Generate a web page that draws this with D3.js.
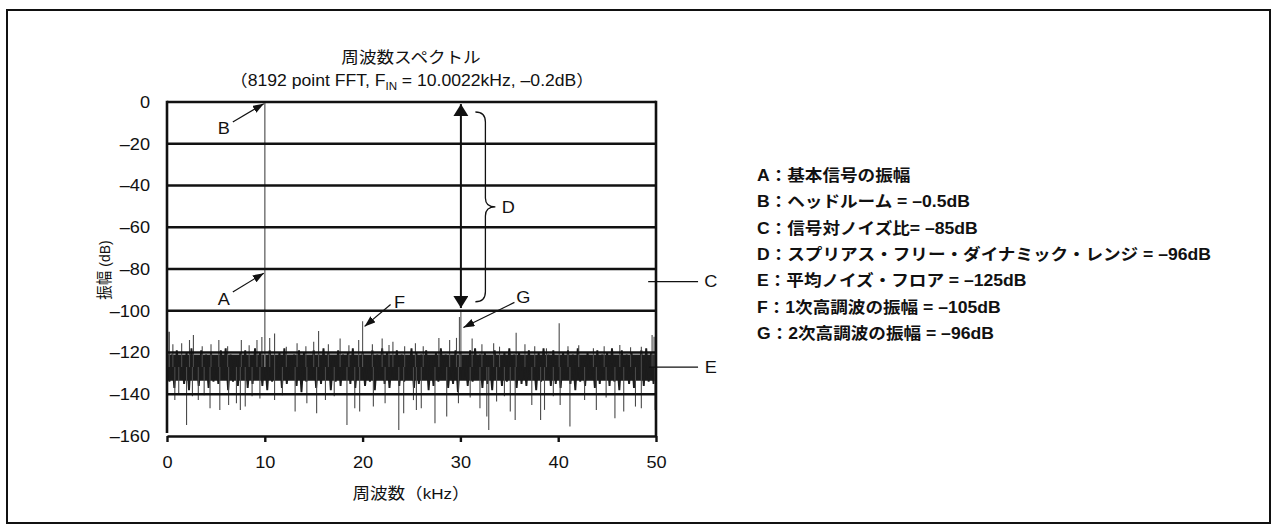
<!DOCTYPE html>
<html><head><meta charset="utf-8">
<script src="https://cdn.jsdelivr.net/npm/d3@7/dist/d3.min.js"></script>
<style>html,body{margin:0;padding:0;background:#fff}svg{display:block}</style>
</head><body><svg id="c" width="1277" height="532"></svg>
<script>
// ---------- data ----------
const titleLine1 = "周波数スペクトル";
const xTitle = "周波数（kHz）";
const yTitle = "振幅 (dB)";
const xTicks = [0, 10, 20, 30, 40, 50];
const yTicks = [0, -20, -40, -60, -80, -100, -120, -140, -160];
// noise floor trace: upper excursions at 0,0.5,...,50 kHz; lower excursions at 0.25,0.75,... kHz
const noiseTop = [
-118,-121,-119,-122,-120,-118,-123,-119,-121,-120,
-122,-119,-118,-121,-123,-120,-119,-122,-118,-120,
-121,-119,-123,-120,-118,-122,-121,-119,-120,-123,
-119,-121,-118,-120,-122,-119,-121,-120,-118,-122,
-120,-123,-119,-121,-118,-120,-122,-119,-121,-123,
-118,-120,-121,-119,-122,-120,-118,-121,-123,-119,
-120,-122,-119,-118,-121,-120,-123,-119,-122,-120,
-118,-121,-120,-122,-119,-123,-120,-118,-121,-119,
-122,-120,-119,-121,-118,-123,-120,-122,-119,-121,
-120,-118,-122,-119,-121,-120,-123,-119,-118,-120,
-119];
const noiseBottom = [
-134,-137,-132,-135,-138,-133,-136,-131,-137,-134,
-135,-132,-138,-134,-136,-133,-137,-135,-131,-136,
-138,-134,-132,-137,-135,-133,-136,-139,-134,-132,
-137,-135,-133,-138,-134,-136,-131,-135,-137,-133,
-136,-134,-138,-132,-135,-137,-133,-136,-134,-131,
-137,-135,-133,-138,-136,-134,-132,-137,-135,-139,
-133,-136,-134,-131,-137,-135,-138,-133,-136,-134,
-132,-137,-135,-136,-133,-138,-134,-131,-136,-135,
-137,-133,-135,-138,-134,-136,-132,-137,-135,-133,
-136,-134,-138,-132,-135,-137,-133,-136,-134,-135];
const noiseCoreTop = -121, noiseCoreBottom = -133.5, noiseMid = -127;
// isolated noise spikes [kHz, dB]
const spikesUp = [[0.1,-110],[0.24,-110],[0.6,-116],[1.5,-115.6],[2.3,-114],[2.7,-111.6],[3.6,-117],[4.5,-116],[5.3,-114],[6.2,-117],[7.6,-114],[8.4,-116.5],[9.2,-114],[9.7,-112.6],[10.5,-113],[11.0,-110.9],[12.2,-117.2],[13.3,-115.6],[14.2,-117],[15.0,-114.8],[15.5,-109.7],[16.5,-116],[17.7,-113.3],[18.6,-116.5],[19.6,-114],[21.0,-116],[22.0,-113.3],[22.7,-116.4],[23.1,-114.8],[24.3,-117],[25.4,-115.6],[26.2,-117],[27.8,-113],[28.9,-114],[29.6,-113],[31.2,-113.3],[32.2,-116],[33.4,-115.6],[34.0,-117.2],[35.7,-110.5],[36.6,-116],[37.6,-117],[38.8,-118],[40.1,-106],[41.0,-117],[42.1,-116.5],[43.6,-118],[44.7,-117],[46.3,-116.4],[47.4,-117.5],[48.5,-117.2],[49.6,-111.6],[49.8,-112.4]];
const spikesDown = [[0.8,-142.8],[1.2,-140],[2.0,-154.7],[2.6,-141],[3.2,-142.8],[3.8,-140.5],[4.4,-146.7],[5.4,-147.5],[6.3,-145.1],[7.1,-144.3],[7.5,-147.5],[8.0,-145.9],[8.7,-141],[9.5,-142],[11.0,-142.8],[11.8,-140.5],[13.1,-148.3],[14.3,-144.3],[15.3,-149.1],[16.2,-142.8],[17.1,-141],[18.4,-154.7],[19.2,-146.7],[19.7,-148.3],[21.1,-145.9],[22.3,-144.3],[23.7,-157.1],[24.2,-149.1],[25.2,-142.8],[25.5,-147.5],[26.0,-146.7],[27.4,-153.9],[28.6,-150.7],[29.8,-144.3],[31.0,-141.5],[32.0,-146.7],[32.7,-150.7],[32.9,-157.1],[33.7,-143.5],[34.5,-141],[35.1,-148.3],[35.6,-152.3],[37.3,-145.1],[38.2,-152.3],[38.6,-147.5],[39.5,-141],[40.2,-145.1],[41.2,-155.5],[42.7,-142.8],[43.9,-147.5],[44.9,-141.5],[45.8,-151.5],[46.7,-148.3],[47.9,-145.9],[48.5,-146.7],[49.9,-147.5]];
// signal & harmonics
const peakFreq = [10.0022, 20.0, 29.9, 30.05];
const peakDb = [-0.2, -105, -103, -100.5];
// legend
const legendKeys = ["A","B","C","D","E","F","G"];
const legendTexts = ["基本信号の振幅","ヘッドルーム = –0.5dB","信号対ノイズ比= –85dB","スプリアス・フリー・ダイナミック・レンジ = –96dB","平均ノイズ・フロア = –125dB","1次高調波の振幅 = –105dB","2次高調波の振幅 = –96dB"];

// ---------- drawing ----------
const SX = 1.1; // glyphs in the original are slightly wide
const LATIN = "'Liberation Sans', Arial, Helvetica, sans-serif";
const CJK = "'Noto Sans CJK JP', 'Noto Sans CJK SC', sans-serif";
const cjkRe = /[\u3000-\u30ff\u3400-\u9fff\uff00-\uffef]/;
function mixed(t, str, ls, cs) {
  str.match(/[\u3000-\u30ff\u3400-\u9fff\uff00-\uffef]+|[^\u3000-\u30ff\u3400-\u9fff\uff00-\uffef]+/g).forEach(run => {
    const c = cjkRe.test(run);
    t.append("tspan").attr("font-family", c ? CJK : LATIN).attr("font-size", c ? cs : ls).text(run);
  });
  return t;
}
const svg = d3.select("#c");
function wtext(px, py, anchor, extra) {
  return svg.append("g").attr("transform", `translate(${px},${py}) scale(${SX},1)` + (extra||""))
    .append("text").attr("text-anchor", anchor).attr("fill", "#111");
}
svg.append("rect").attr("x",7).attr("y",10).attr("width",1263).attr("height",513)
  .attr("fill","#fff").attr("stroke","#111").attr("stroke-width",2);

const x = d3.scaleLinear().domain([0,50]).range([167,656]);
const y = d3.scaleLinear().domain([-160,0]).range([436,102]);

// noise core
svg.append("path").datum([0,50])
  .attr("d", d3.area().x(d=>x(d)).y0(y(noiseCoreBottom)).y1(y(noiseCoreTop)))
  .attr("fill","#1c1c1c");
// zigzag trace
const trace = [];
noiseTop.forEach((v,i)=>{ trace.push([i*0.5, v]); if (i < noiseBottom.length) trace.push([i*0.5+0.25, noiseBottom[i]]); });
svg.append("path").datum(trace)
  .attr("d", d3.line().x(d=>x(d[0])).y(d=>y(d[1])))
  .attr("fill","none").attr("stroke","#1c1c1c").attr("stroke-width",1.9);
// spikes
svg.append("g").selectAll("line").data(spikesUp.concat(spikesDown)).join("line")
  .attr("x1",d=>x(d[0])).attr("x2",d=>x(d[0]))
  .attr("y1",y(noiseMid)).attr("y2",d=>y(d[1]))
  .attr("stroke","#4a4a4a").attr("stroke-width",1.1);
// signal and harmonics
svg.append("g").selectAll("line").data(peakFreq).join("line")
  .attr("x1",d=>x(d)).attr("x2",d=>x(d))
  .attr("y1",y(noiseMid)).attr("y2",(d,i)=>y(peakDb[i]))
  .attr("stroke",(d,i)=> i===0 ? "#777" : "#555").attr("stroke-width",(d,i)=> i===0 ? 1.5 : 1.1);

// grid / frame
svg.append("g").selectAll("line").data(yTicks.filter(v=>v>-160)).join("line")
  .attr("x1",x(0)).attr("x2",x(50)).attr("y1",d=>y(d)).attr("y2",d=>y(d))
  .attr("stroke","#111").attr("stroke-width",2.6);
svg.append("line").attr("x1",x(0)).attr("x2",x(0)).attr("y1",y(0)-1.3).attr("y2",y(-160)-3)
  .attr("stroke","#111").attr("stroke-width",2.6);
svg.append("line").attr("x1",x(50)).attr("x2",x(50)).attr("y1",y(0)-1.3).attr("y2",y(-160))
  .attr("stroke","#111").attr("stroke-width",2.6);

// x axis
const gx = svg.append("g").attr("transform",`translate(0,${y(-160)})`)
  .call(d3.axisBottom(x).tickValues(xTicks).tickSize(6).tickSizeOuter(0).tickPadding(14));
gx.select(".domain").attr("stroke","#111").attr("stroke-width",2.6);
gx.selectAll(".tick line").attr("stroke","#111").attr("stroke-width",2.4);
gx.selectAll(".tick text").attr("font-family",LATIN).attr("font-size",16.5).attr("fill","#111")
  .attr("transform",`scale(${SX},1)`);
// y axis
const gy = svg.append("g").attr("transform",`translate(${x(0)},0)`)
  .call(d3.axisLeft(y).tickValues(yTicks).tickSize(0).tickPadding(17)
    .tickFormat(d => d < 0 ? "–" + Math.abs(d) : String(d)));
gy.select(".domain").remove();
gy.selectAll(".tick text").attr("font-family",LATIN).attr("font-size",16.5).attr("fill","#111")
  .attr("x",0).attr("transform",`translate(-17,0) scale(${SX},1)`);

// titles
mixed(wtext(411, 63, "middle"), titleLine1, 15.5, 16);
const t2 = wtext(412, 86, "middle");
mixed(t2, "（8192 point FFT, F", 16, 16);
t2.append("tspan").attr("font-family",LATIN).attr("font-size",10.5).attr("dy",4).text("IN");
t2.append("tspan").attr("font-family",LATIN).attr("font-size",16).attr("dy",-4).text(" = 10.0022kHz, –0.2dB");
t2.append("tspan").attr("font-family",CJK).attr("font-size",16).text("）");
mixed(wtext(411, 499, "middle"), xTitle, 15.5, 16);
mixed(wtext(110, 270, "middle", " rotate(-90)"), yTitle, 14, 14.5);

// markers
const defs = svg.append("defs");
defs.append("marker").attr("id","ah").attr("markerUnits","userSpaceOnUse")
  .attr("markerWidth",12).attr("markerHeight",10).attr("refX",11).attr("refY",4)
  .attr("orient","auto").append("path").attr("d","M0,0 L11,4 L0,8 Z").attr("fill","#111");
defs.append("marker").attr("id","bh").attr("markerUnits","userSpaceOnUse")
  .attr("markerWidth",14).attr("markerHeight",16).attr("refX",12).attr("refY",7.5)
  .attr("orient","auto-start-reverse").append("path").attr("d","M0,0 L12,7.5 L0,15 Z").attr("fill","#111");

function arrow(x1,y1,x2,y2){
  svg.append("line").attr("x1",x1).attr("y1",y1).attr("x2",x2).attr("y2",y2)
    .attr("stroke","#111").attr("stroke-width",1.2).attr("marker-end","url(#ah)");
}
function label(t,px,py){
  wtext(px, py, "middle").attr("dy","0.36em").attr("font-family",LATIN).attr("font-size",16.5).text(t);
}
// B
label("B", x(10)-41, y(-12.4)); arrow(x(10)-32, y(-9.6), x(10)-1, y(-0.8));
// A
label("A", x(10)-41, y(-94.5)); arrow(x(10)-32, y(-91), x(10)-1, y(-82));
// F
label("F", x(20)+37, y(-96)); arrow(x(20)+28, y(-97), x(20)+2, y(-107.5));
// G
label("G", x(30)+63, y(-93.5)); arrow(x(30)+54, y(-96), x(30)+3, y(-108));
// D double arrow
svg.append("line").attr("x1",x(30)+0.5).attr("x2",x(30)+0.5).attr("y1",y(-1)).attr("y2",y(-98.7))
  .attr("stroke","#111").attr("stroke-width",2).attr("marker-start","url(#bh)").attr("marker-end","url(#bh)");
// brace
const bx = x(30)+15, by0 = y(-4.8), by1 = y(-95.7), bm = (by0+by1)/2;
svg.append("path").attr("d",
  `M${bx},${by0} Q${bx+10},${by0} ${bx+10},${by0+10} L${bx+10},${bm-9} Q${bx+10},${bm} ${bx+20},${bm} Q${bx+10},${bm} ${bx+10},${bm+9} L${bx+10},${by1-10} Q${bx+10},${by1} ${bx},${by1}`)
  .attr("fill","none").attr("stroke","#111").attr("stroke-width",1.3);
label("D", bx+33, bm);
// C, E
svg.append("line").attr("x1",x(49.2)).attr("x2",x(54.3)).attr("y1",y(-86)).attr("y2",y(-86)).attr("stroke","#111").attr("stroke-width",1.2);
label("C", x(55.6), y(-86));
svg.append("line").attr("x1",x(49.3)).attr("x2",x(54.3)).attr("y1",y(-127)).attr("y2",y(-127)).attr("stroke","#111").attr("stroke-width",1.2);
label("E", x(55.6), y(-127));

// legend
legendKeys.forEach((k,i)=>{
  const t = wtext(757, 175 + i*26.4, "start").attr("dy","0.36em").attr("font-weight","bold");
  t.append("tspan").attr("font-family",LATIN).attr("font-size",16).text(k);
  t.append("tspan").attr("font-family",CJK).attr("font-size",16).text("：");
  mixed(t, legendTexts[i], 16, 16);
});
</script></body></html>
